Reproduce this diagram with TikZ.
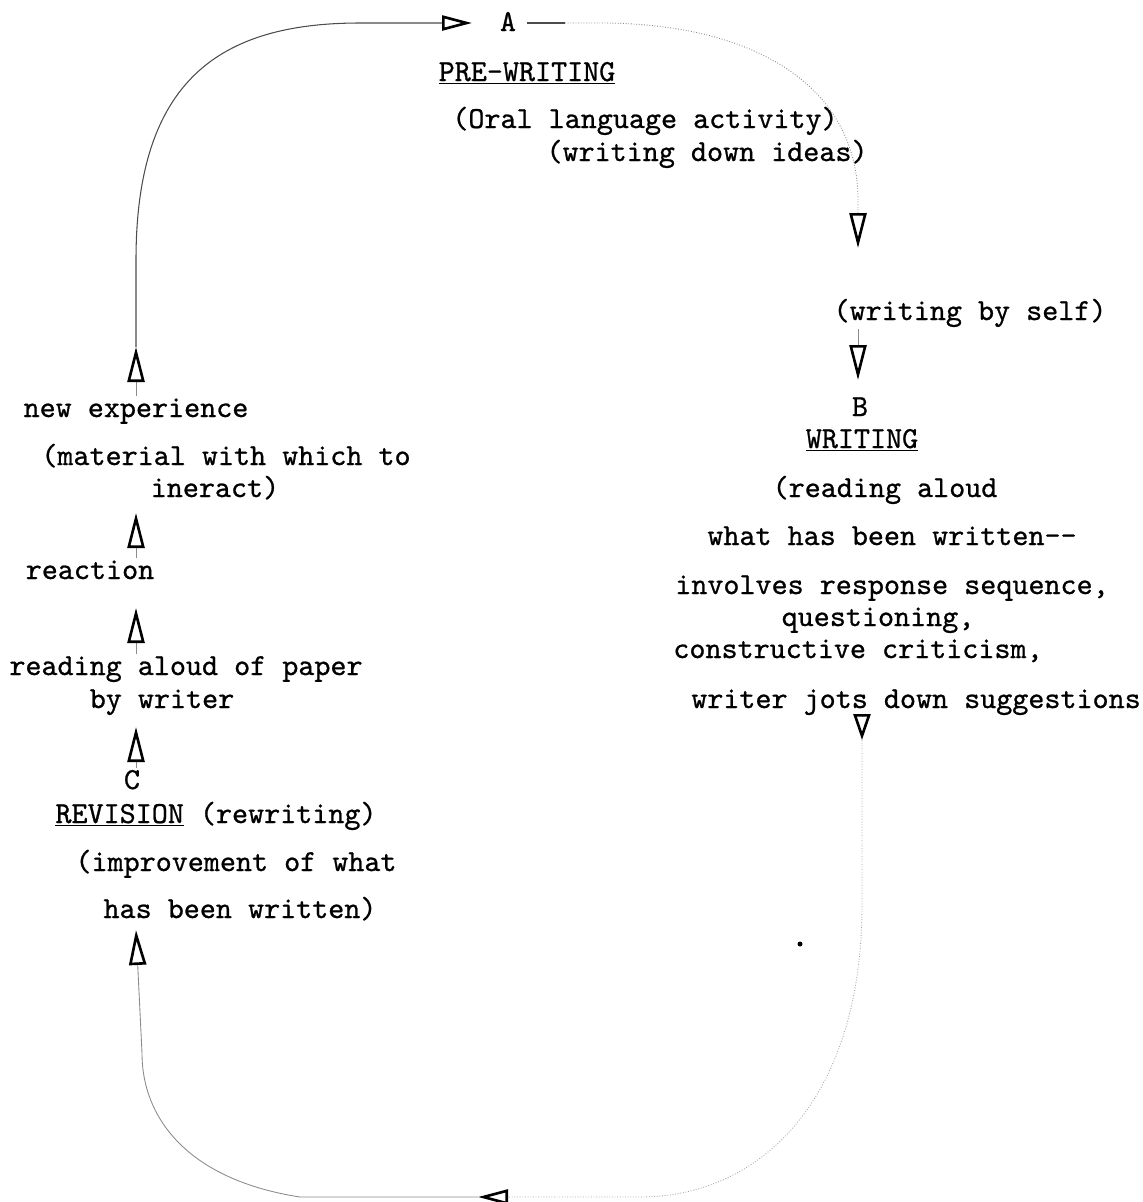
\documentclass[tikz,border=0pt]{standalone}
\usepackage{fontspec}
\setmonofont{lmmono10-regular.otf}[FakeBold=0.8]
\usetikzlibrary{arrows.meta}
\newcommand{\typew}{\fontsize{17.4}{18.8}\selectfont\ttfamily}

\begin{document}
\begin{tikzpicture}[x=1cm,y=1cm]
\tikzset{
  typed/.style={anchor=base,inner sep=1pt,font=\typew},
  flow/.style={-{Triangle[open,length=0.70cm,width=0.34cm,line width=1.5pt,color=black]},draw=black!45,line width=0.5pt},
  flowshort/.style={-{Triangle[open,length=0.52cm,width=0.34cm,line width=1.5pt,color=black]},draw=black!45,line width=0.5pt},
  flowside/.style={-{Triangle[open,length=0.60cm,width=0.30cm,line width=1.5pt,color=black]}},
  loopline/.style={draw=black!70,line width=0.6pt},
  fadeline/.style={draw=black!35,line width=0.5pt,densely dotted}
}
\useasboundingbox (0,0) rectangle (22.86,-24.04);
% A: pre-writing
\node[typed] (n_a) at (10.16,-0.62) {A};
\node[typed] (n_pre) at (10.54,-1.62) {\underline{PRE-WRITING}};
\node[typed] (n_oral) at (12.90,-2.56) {(Oral language activity)};
\node[typed] (n_ideas) at (14.14,-3.22) {(writing down ideas)};
% B: writing
\node[typed] (n_self) at (19.40,-6.40) {(writing by self)};
\node[typed] (n_b) at (17.20,-8.32) {B};
\node[typed] (n_writing) at (17.24,-8.96) {\underline{WRITING}};
\node[typed] (n_ra) at (17.70,-9.94) {(reading aloud};
\node[typed] (n_what) at (17.84,-10.90) {what has been written-{}-};
\node[typed] (n_inv) at (17.84,-11.88) {involves response sequence,};
\node[typed] (n_quest) at (17.56,-12.52) {questioning,};
\node[typed] (n_constr) at (17.16,-13.16) {constructive criticism,};
\node[typed] (n_jots) at (18.32,-14.16) {writer jots down suggestions};
% C: revision, left column
\node[typed] (n_new) at (2.72,-8.34) {new experience};
\node[typed] (n_mat) at (4.52,-9.30) {(material with which to};
\node[typed] (n_iner) at (4.30,-9.94) {ineract)};
\node[typed] (n_react) at (1.80,-11.58) {reaction};
\node[typed] (n_read) at (3.72,-13.50) {reading aloud of paper};
\node[typed] (n_bywr) at (3.24,-14.16) {by writer};
\node[typed] (n_c) at (2.64,-15.78) {C};
\node[typed] (n_rev) at (4.32,-16.46) {\underline{REVISION} (rewriting)};
\node[typed] (n_impr) at (4.72,-17.42) {(improvement of what};
\node[typed] (n_hbw) at (4.80,-18.36) {has been written)};
% arrow tips
\coordinate (t_new) at (2.72,-6.94);
\coordinate (t_react) at (2.72,-10.26);
\coordinate (t_read) at (2.72,-12.16);
\coordinate (t_c) at (2.72,-14.54);
\coordinate (t_hbw) at (2.72,-18.60);
\coordinate (t_ideas) at (17.16,-4.96);
\coordinate (t_b) at (17.16,-7.60);
\coordinate (t_jots) at (17.24,-14.80);
\coordinate (t_a) at (9.44,-0.46);
\coordinate (t_bot) at (9.56,-23.94);
\coordinate (c_ar) at (11.30,-0.46);
% column arrows
\draw[flow] (n_new) -- (t_new);
\draw[flow] (t_react |- n_react.north) -- (t_react);
\draw[flow] (t_read |- n_read.north) -- (t_read);
\draw[flow] (t_c |- n_c.north) -- (t_c);
\draw[flow] (t_b |- n_self.south) -- (t_b);
\draw[flowshort] (t_jots |- n_jots.south) -- (t_jots);
% the big loop
\draw[loopline,flowside] (t_new) -- (2.72,-5.2) .. controls (2.72,-1.6) and (4.4,-0.46) .. (7.2,-0.46) -- (t_a);
\draw[loopline,shorten <=5pt] (n_a.east |- c_ar) -- (c_ar);
\draw[fadeline,flow] (c_ar) -- (12.0,-0.46) .. controls (15.2,-0.46) and (17.16,-1.8) .. (17.16,-4.0) -- (t_ideas);
\draw[fadeline,flowside] (t_jots) -- (17.24,-18.1) .. controls (17.24,-22.0) and (15.2,-23.94) .. (12.8,-23.94) -- (t_bot);
\draw[loopline,flow] (t_bot) -- (6.0,-23.94) .. controls (3.8,-23.6) and (2.84,-22.4) .. (2.84,-21.06) -- (t_hbw);
\fill (16.00,-18.88) circle (0.05);
\end{tikzpicture}
\end{document}
